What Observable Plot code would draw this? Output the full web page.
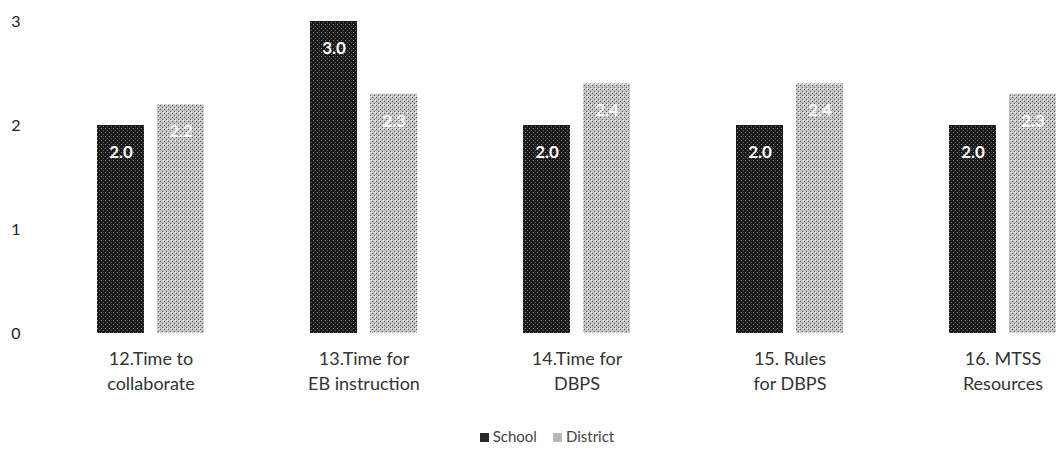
<!DOCTYPE html>
<html>
<head>
<meta charset="utf-8">
<script src="https://cdn.jsdelivr.net/npm/d3@7"></script>
<script src="https://cdn.jsdelivr.net/npm/@observablehq/plot@0.6"></script>
<style>
  html, body { margin: 0; padding: 0; background: #fff; }
  body { width: 1058px; height: 453px; overflow: hidden; font-family: Lato, "Open Sans", sans-serif; }
  #legend { position: absolute; top: 427px; left: 0; width: 1058px; text-align: center; padding-left: 36px; box-sizing: border-box; font-size: 15px; color: #444; }
  #legend span.sw { display: inline-block; width: 9px; height: 9px; margin-right: 4px; vertical-align: 0px; }
  #legend span.item { margin: 0 8px; }
</style>
</head>
<body>
<div id="chart"></div>
<div id="legend"></div>
<script>
const categories = ["12.Time to\ncollaborate", "13.Time for\nEB instruction", "14.Time for\nDBPS", "15. Rules\nfor DBPS", "16. MTSS\nResources"];
const schoolValues = [2.0, 3.0, 2.0, 2.0, 2.0];
const districtValues = [2.2, 2.3, 2.4, 2.4, 2.3];
const yTicks = [0, 1, 2, 3];
const seriesNames = ["School", "District"];

const school = categories.map((c, i) => ({category: c, value: schoolValues[i]}));
const district = categories.map((c, i) => ({category: c, value: districtValues[i]}));

const W = 1058, H = 415;
const plot = Plot.plot({
  width: W,
  height: H,
  marginTop: 21,
  marginBottom: 82,
  marginLeft: 44,
  marginRight: 0,
  style: {fontFamily: "Lato, 'Open Sans', sans-serif", background: "#fff", overflow: "hidden"},
  x: {domain: categories, range: [44, 1109], padding: 0, label: null},
  y: {domain: [0, 3], label: null},
  marks: [
    Plot.axisY({ticks: yTicks, label: null, tickSize: 0, tickPadding: 24, fontSize: 16, fill: "#222", tickFormat: d3.format("d")}),
    Plot.axisX({label: null, tickSize: 0, tickPadding: 14, fontSize: 18, fill: "#333", lineHeight: 1.39}),
    Plot.barY(school, {x: "category", y: "value", fill: "url(#patSchool)", insetLeft: 53, insetRight: 113}),
    Plot.barY(district, {x: "category", y: "value", fill: "url(#patDistrict)", insetLeft: 113, insetRight: 53}),
    Plot.text(school, {x: "category", y: "value", text: d => d.value.toFixed(1), dx: -30, dy: 27, fill: "#fff", fontSize: 17, fontWeight: "bold"}),
    Plot.text(district, {x: "category", y: "value", text: d => d.value.toFixed(1), dx: 30, dy: 27, fill: "#fff", fontSize: 17, fontWeight: "bold"})
  ]
});

// texture patterns to imitate the speckled fills
const ns = "http://www.w3.org/2000/svg";
const defs = document.createElementNS(ns, "defs");
defs.innerHTML = `
  <pattern id="patSchool" width="4" height="4" patternUnits="userSpaceOnUse">
    <rect width="4" height="4" fill="#1a1a1a"/>
    <rect x="1" y="0" width="1" height="1" fill="#8a8a8a"/>
    <rect x="3" y="2" width="1" height="1" fill="#6e6e6e"/>
  </pattern>
  <pattern id="patDistrict" width="4" height="4" patternUnits="userSpaceOnUse">
    <rect width="4" height="4" fill="#c4c4c4"/>
    <rect x="0" y="1" width="1" height="1" fill="#555"/>
    <rect x="2" y="3" width="1" height="1" fill="#666"/>
    <rect x="3" y="0" width="1" height="1" fill="#fff"/>
  </pattern>`;
plot.insertBefore(defs, plot.firstChild);
document.getElementById("chart").appendChild(plot);

const legend = document.getElementById("legend");
const swatches = ["#2a2a2a", "#b8b8b8"];
legend.innerHTML = seriesNames.map((n, i) =>
  `<span class="item"><span class="sw" style="background:${swatches[i]}"></span>${n}</span>`).join("");
</script>
</body>
</html>
